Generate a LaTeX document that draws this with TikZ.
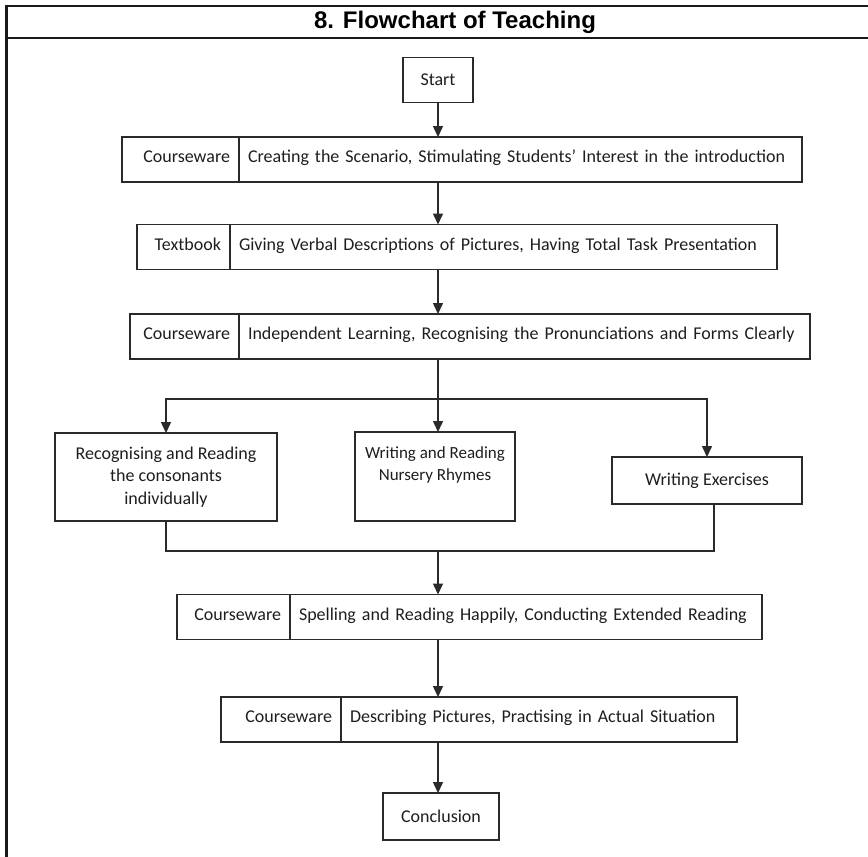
\documentclass[tikz,border=0pt]{standalone}
\usepackage{fontspec}
\setmainfont{Carlito}
\newfontfamily\titlefont{Liberation Sans}
\usetikzlibrary{arrows.meta}
\definecolor{linec}{HTML}{2A2A2A}
\definecolor{textc}{HTML}{1E1E1E}
\begin{document}
\begin{tikzpicture}[x=1pt,y=-1pt,
  box/.style={draw=linec, line width=1.5pt, inner ysep=0pt, outer sep=0pt, text=textc,
              font=\fontsize{18}{22.5}\selectfont},
  cell/.style={box, inner xsep=9pt, minimum height=45pt, text height=11.5pt, text depth=5pt},
  txt/.style={inner sep=0pt, text=textc, font=\fontsize{18}{22.5}\selectfont, align=center},
  link/.style={draw=linec, line width=1.5pt},
  arr/.style={link, -{Triangle[width=10pt,length=11pt]}},
  rule/.style={draw=black!90, line width=2.2pt}]
\useasboundingbox (0,0) rectangle (868,857);

% table frame and heading
\draw[rule, line width=3.2pt] (6.5,4.5) -- (6.5,857);
\draw[rule] (5,6) -- (868,6);
\draw[rule] (5,38) -- (868,38);
\node[inner sep=0pt, font=\titlefont\bfseries\fontsize{24}{26}\selectfont] (title) at (455,22) {8. Flowchart of Teaching};

% start
\node[box, minimum width=70pt, minimum height=45pt] (start) at (438,80) {Start};

% step 1
\node[cell, text width=99pt, align=right] (b1l) at (180.5,159.5) {Courseware};
\node[cell, text width=545pt, align=left] (b1r) at (520.5,159.5) {Creating the Scenario, Stimulating Students’ Interest in the introduction};

% step 2
\node[cell, text width=75pt, align=right] (b2l) at (183.5,247) {Textbook};
\node[cell, text width=529pt, align=left] (b2r) at (503.5,247) {Giving Verbal Descriptions of Pictures, Having Total Task Presentation};

% step 3
\node[cell, text width=91pt, align=right] (b3l) at (184.5,336.5) {Courseware};
\node[cell, text width=553pt, align=left] (b3r) at (524.5,336.5) {Independent Learning, Recognising the Pronunciations and Forms Clearly};

% three parallel activities
\node[box, minimum width=222pt, minimum height=88pt] (lb) at (166,477) {};
\node[txt] (lbt) at (lb.center) {Recognising and Reading\\the consonants\\individually};
\node[box, minimum width=160pt, minimum height=89pt] (mb) at (435,476.5) {};
\node[txt, anchor=north, font=\fontsize{17}{22.5}\selectfont] (mbt) at ([yshift=-14pt]mb.north) {Writing and Reading\\Nursery Rhymes};
\node[box, minimum width=190pt, minimum height=47pt] (rb) at (707,480.5) {Writing Exercises};

% step 5
\node[cell, text width=95pt, align=right] (b5l) at (233.5,617) {Courseware};
\node[cell, text width=454pt, align=left] (b5r) at (526,617) {Spelling and Reading Happily, Conducting Extended Reading};

% step 6
\node[cell, text width=102pt, align=right] (b6l) at (281,719.5) {Courseware};
\node[cell, text width=378pt, align=left] (b6r) at (539,719.5) {Describing Pictures, Practising in Actual Situation};

% conclusion
\node[box, minimum width=116pt, minimum height=47pt] (concl) at (441,816.5) {Conclusion};

% branch and merge points
\coordinate (br) at (438,399);
\coordinate (mg) at (438,551);

% connectors
\draw[arr] (start.south) -- (start.south |- b1r.north);
\draw[arr] (start.south |- b1r.south) -- (start.south |- b2r.north);
\draw[arr] (start.south |- b2r.south) -- (start.south |- b3r.north);
\draw[link] (start.south |- b3r.south) -- (br);
\draw[arr] (br) -| (lb.north);
\draw[arr] (br) -- (br |- mb.north);
\draw[arr] (br) -| (rb.north);
\draw[link] (lb.south) |- (mg) -| ([xshift=7pt]rb.south);
\draw[arr] (mg) -- (mg |- b5r.north);
\draw[arr] (start.south |- b5r.south) -- (start.south |- b6r.north);
\draw[arr] (start.south |- b6r.south) -- (start.south |- concl.north);
\end{tikzpicture}
\end{document}
